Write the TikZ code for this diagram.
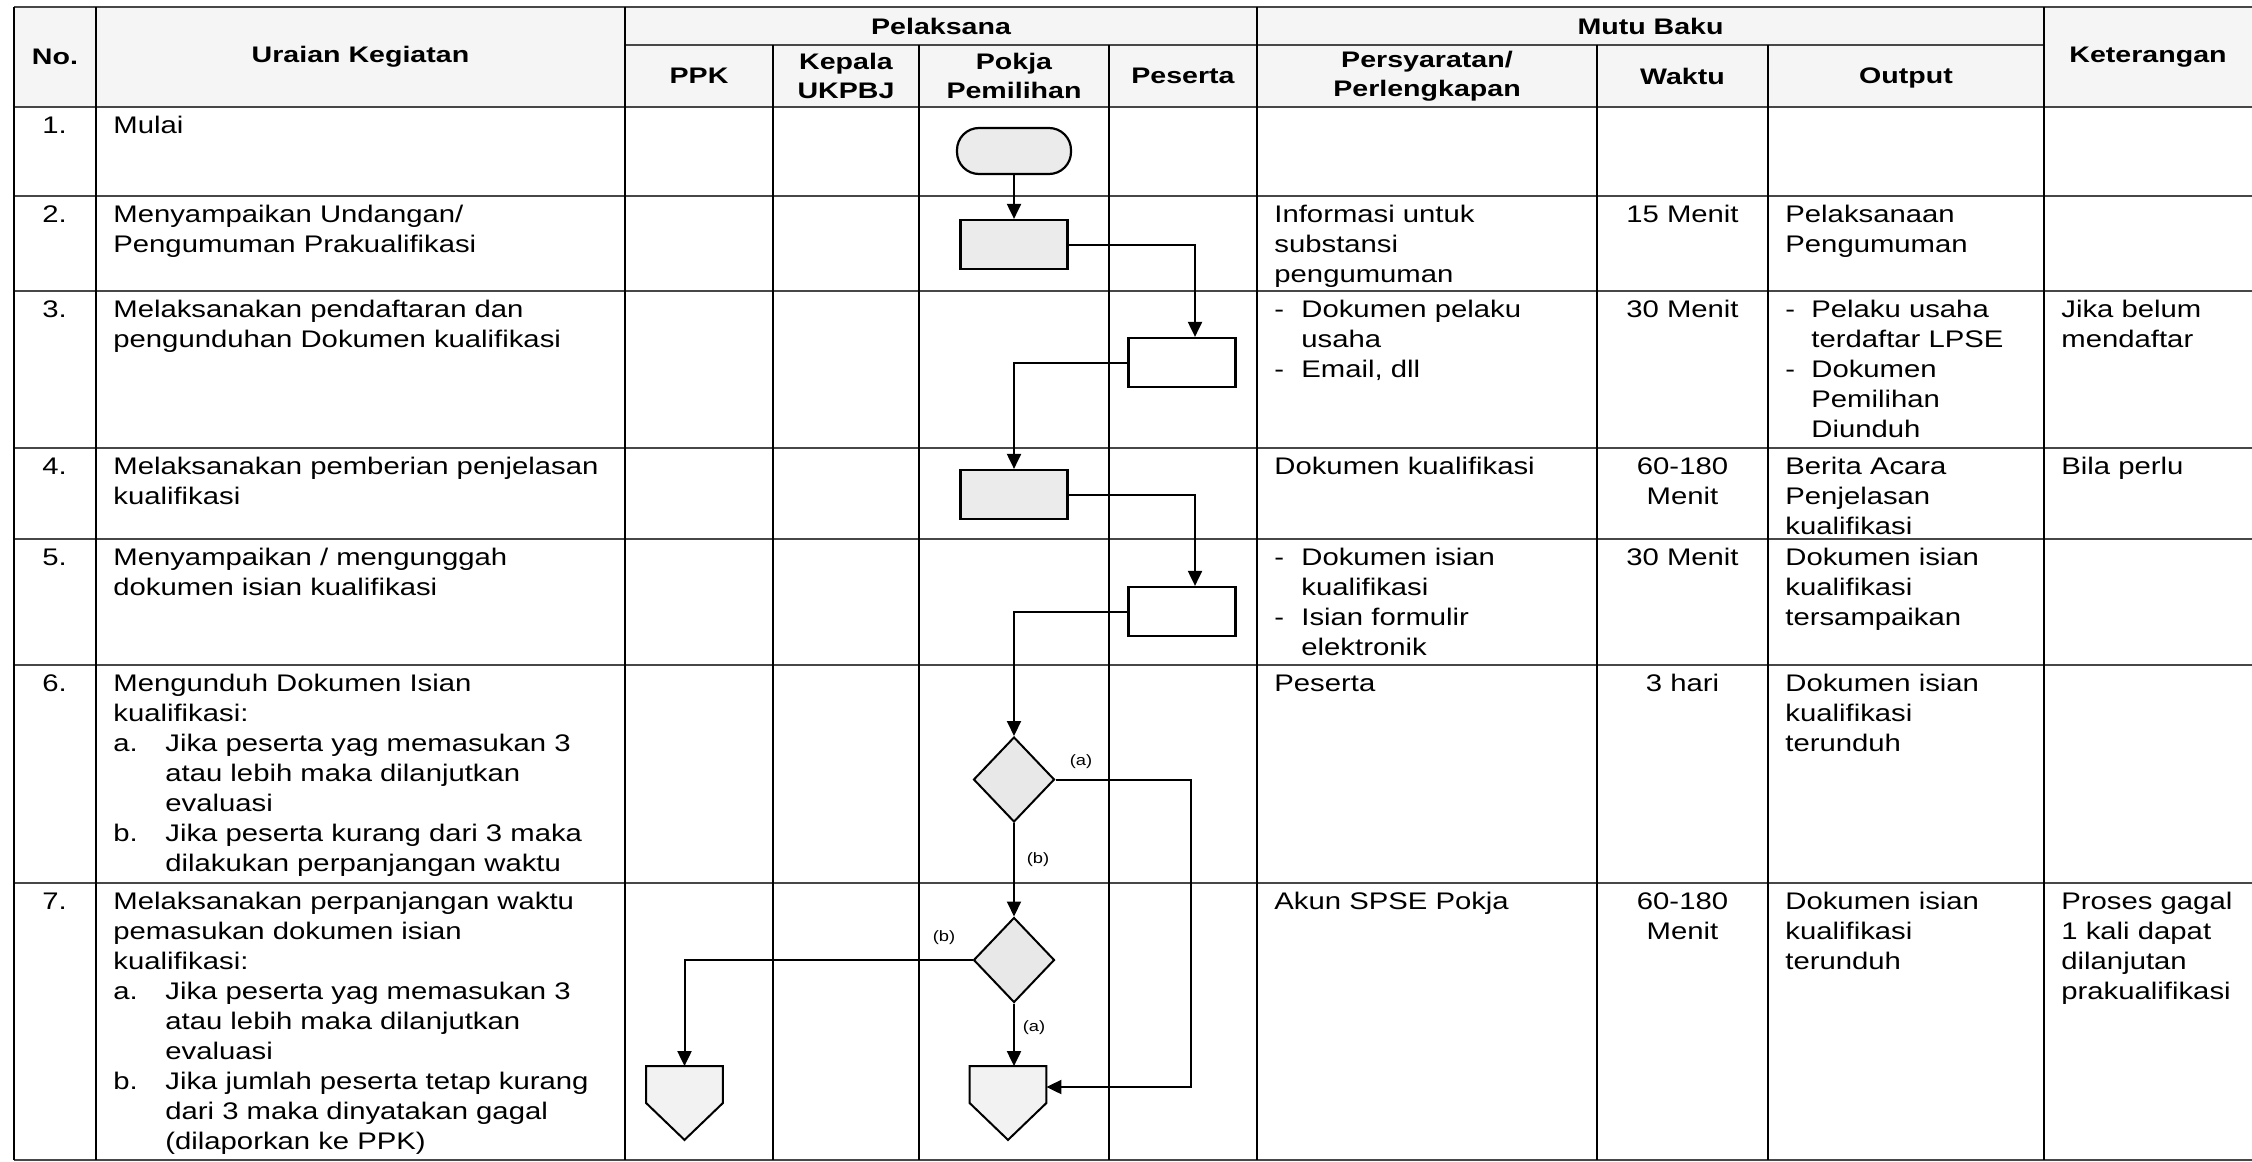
\documentclass[tikz,border=0pt]{standalone}
\usepackage{fontspec}
\setmainfont{Liberation Sans}[FakeStretch=1.22]
\newfontfamily\hdfont{Liberation Sans}[FakeStretch=1.27]
\usetikzlibrary{shapes.geometric,arrows.meta}
\newcommand{\dashi}[1]{\makebox[#1][l]{-}}
\newcommand{\indi}[1]{\hspace*{#1}}
\newcommand{\itm}[1]{\makebox[26pt][l]{#1}}
\tikzset{
 rowln/.style={line width=1.2pt, draw=black!72},
 colln/.style={line width=0.7pt, draw=black},
 txt/.style={anchor=north west, inner sep=0pt, align=left, font=\fontsize{12}{15}\selectfont},
 ctxt/.style={anchor=north, inner sep=0pt, align=center, font=\fontsize{12}{15}\selectfont},
 hd/.style={inner sep=0pt, align=center, font=\hdfont\bfseries\fontsize{11.25}{14.5}\selectfont},
 proc/.style={draw, line width=1.1pt, fill=gray!16, minimum width=53.5pt, minimum height=24.5pt, inner sep=0pt},
 procw/.style={proc, fill=white},
 dec/.style={diamond, draw, line width=1pt, fill=gray!18, minimum width=40.5pt, minimum height=42.5pt, inner sep=0pt},
 term/.style={draw, line width=1.1pt, fill=gray!16, rounded corners=11pt, minimum width=57pt, minimum height=23pt, inner sep=0pt},
 offbox/.style={minimum width=38pt, minimum height=36.5pt, inner sep=0pt},
 pent/.style={draw, line width=1pt, fill=gray!10},
 conn/.style={line width=1pt},
 arr/.style={conn, -{Triangle[length=7.5pt,width=7pt]}},
 lbl/.style={inner sep=0pt, font=\fontsize{7.5}{9}\selectfont},
}
\begin{document}
\begin{tikzpicture}[x=0.5pt,y=-0.5pt]
\fill[white] (0,0) rectangle (2252,1161);
\useasboundingbox (0,0) rectangle (2252,1161);
% header background
\fill[gray!8] (14,7) rectangle (2252,107);
% table lines
\foreach \y in {7,107,196,291,448,539,665,883,1160} \draw[rowln] (14,\y) -- (2252,\y);
\draw[rowln] (625,45) -- (2044,45);
\foreach \x in {14,96,625,1257,2044} \draw[colln] (\x,7) -- (\x,1160);
\foreach \x in {773,919,1109,1597,1768} \draw[colln] (\x,45) -- (\x,1160);

% header texts
\node[hd] (hNo) at (55,57) {No.};
\node[hd] (hUr) at (360.5,57) {Uraian Kegiatan};
\node[hd] (hPel) at (941,26) {Pelaksana};
\node[hd] (hPPK) at (699,76) {PPK};
\node[hd] (hKep) at (846,76) {Kepala\\UKPBJ};
\node[hd] (hPok) at (1014,76) {Pokja\\Pemilihan};
\node[hd] (hPes) at (1183,76) {Peserta};
\node[hd] (hMut) at (1650.5,26) {Mutu Baku};
\node[hd] (hPer) at (1427,76) {Persyaratan/\\Perlengkapan};
\node[hd] (hWak) at (1682.5,76) {Waktu};
\node[hd] (hOut) at (1906,78) {Output};
\node[hd] (hKet) at (2148,57) {Keterangan};

% numbers
\node[txt] (n1) at (42,112) {\strut 1.};
\node[txt] (n2) at (42,201) {\strut 2.};
\node[txt] (n3) at (42,296) {\strut 3.};
\node[txt] (n4) at (42,453) {\strut 4.};
\node[txt] (n5) at (42,544) {\strut 5.};
\node[txt] (n6) at (42,670) {\strut 6.};
\node[txt] (n7) at (42,888) {\strut 7.};

% uraian kegiatan
\node[txt] (u1) at (113,112) {\strut Mulai};
\node[txt] (u2) at (113,201) {\strut Menyampaikan Undangan/\\Pengumuman Prakualifikasi};
\node[txt] (u3) at (113,296) {\strut Melaksanakan pendaftaran dan\\pengunduhan Dokumen kualifikasi};
\node[txt] (u4) at (113,453) {\strut Melaksanakan pemberian penjelasan\\kualifikasi};
\node[txt] (u5) at (113,544) {\strut Menyampaikan / mengunggah\\dokumen isian kualifikasi};
\node[txt] (u6) at (113,670) {\strut Mengunduh Dokumen Isian\\kualifikasi:\\\itm{a.}Jika peserta yag memasukan 3\\\indi{26pt}atau lebih maka dilanjutkan\\\indi{26pt}evaluasi\\\itm{b.}Jika peserta kurang dari 3 maka\\\indi{26pt}dilakukan perpanjangan waktu};
\node[txt] (u7) at (113,888) {\strut Melaksanakan perpanjangan waktu\\pemasukan dokumen isian\\kualifikasi:\\\itm{a.}Jika peserta yag memasukan 3\\\indi{26pt}atau lebih maka dilanjutkan\\\indi{26pt}evaluasi\\\itm{b.}Jika jumlah peserta tetap kurang\\\indi{26pt}dari 3 maka dinyatakan gagal\\\indi{26pt}(dilaporkan ke PPK)};

% persyaratan
\node[txt] (q2) at (1274,201) {\strut Informasi untuk\\substansi\\pengumuman};
\node[txt] (q3) at (1274,296) {\strut\dashi{13.5pt}Dokumen pelaku\\\indi{13.5pt}usaha\\\dashi{13.5pt}Email, dll};
\node[txt] (q4) at (1274,453) {\strut Dokumen kualifikasi};
\node[txt] (q5) at (1274,544) {\strut\dashi{13.5pt}Dokumen isian\\\indi{13.5pt}kualifikasi\\\dashi{13.5pt}Isian formulir\\\indi{13.5pt}elektronik};
\node[txt] (q6) at (1274,670) {\strut Peserta};
\node[txt] (q7) at (1274,888) {\strut Akun SPSE Pokja};

% waktu
\node[ctxt] (w2) at (1682.5,201) {\strut 15 Menit};
\node[ctxt] (w3) at (1682.5,296) {\strut 30 Menit};
\node[ctxt] (w4) at (1682.5,453) {\strut 60-180\\Menit};
\node[ctxt] (w5) at (1682.5,544) {\strut 30 Menit};
\node[ctxt] (w6) at (1682.5,670) {\strut 3 hari};
\node[ctxt] (w7) at (1682.5,888) {\strut 60-180\\Menit};

% output
\node[txt] (o2) at (1785,201) {\strut Pelaksanaan\\Pengumuman};
\node[txt] (o3) at (1785,296) {\strut\dashi{13pt}Pelaku usaha\\\indi{13pt}terdaftar LPSE\\\dashi{13pt}Dokumen\\\indi{13pt}Pemilihan\\\indi{13pt}Diunduh};
\node[txt] (o4) at (1785,453) {\strut Berita Acara\\Penjelasan\\kualifikasi};
\node[txt] (o5) at (1785,544) {\strut Dokumen isian\\kualifikasi\\tersampaikan};
\node[txt] (o6) at (1785,670) {\strut Dokumen isian\\kualifikasi\\terunduh};
\node[txt] (o7) at (1785,888) {\strut Dokumen isian\\kualifikasi\\terunduh};

% keterangan
\node[txt] (k3) at (2061,296) {\strut Jika belum\\mendaftar};
\node[txt] (k4) at (2061,453) {\strut Bila perlu};
\node[txt] (k7) at (2061,888) {\strut Proses gagal\\1 kali dapat\\dilanjutan\\prakualifikasi};

% flowchart shapes
\node[term] (s) at (1014,151) {};
\node[proc] (p2) at (1014,244.5) {};
\node[procw] (p3) at (1182,362.5) {};
\node[proc] (p4) at (1014,494.5) {};
\node[procw] (p5) at (1182,611.5) {};
\node[dec] (d1) at (1014,779.5) {};
\node[dec] (d2) at (1014,960) {};
\node[offbox] (e1) at (684.5,1103) {};
\node[offbox] (e2) at (1008,1103) {};
\draw[pent] (e1.north west) -- (e1.north east) -- (e1.east) -- (e1.south) -- (e1.west) -- cycle;
\draw[pent] (e2.north west) -- (e2.north east) -- (e2.east) -- (e2.south) -- (e2.west) -- cycle;

% connectors
\draw[arr] (s) -- (p2);
\draw[arr] (p2.east) -| ([xshift=6.5pt]p3.north);
\draw[arr] (p3.west) -| (p4.north);
\draw[arr] (p4.east) -| ([xshift=6.5pt]p5.north);
\draw[arr] (p5.west) -| (d1.north);
\draw[arr] (d1.east) -- ++(135,0) |- ([yshift=8pt]e2.east);
\draw[arr] (d1) -- (d2);
\draw[arr] (d2.west) -| (e1.north);
\draw[arr] (d2.south) -- (d2.south |- e2.north);

% labels
\node[lbl] (la1) at (1081,762) {(a)};
\node[lbl] (lb1) at (1038,860) {(b)};
\node[lbl] (lb2) at (944,938) {(b)};
\node[lbl] (la2) at (1034,1028) {(a)};
\end{tikzpicture}
\end{document}
